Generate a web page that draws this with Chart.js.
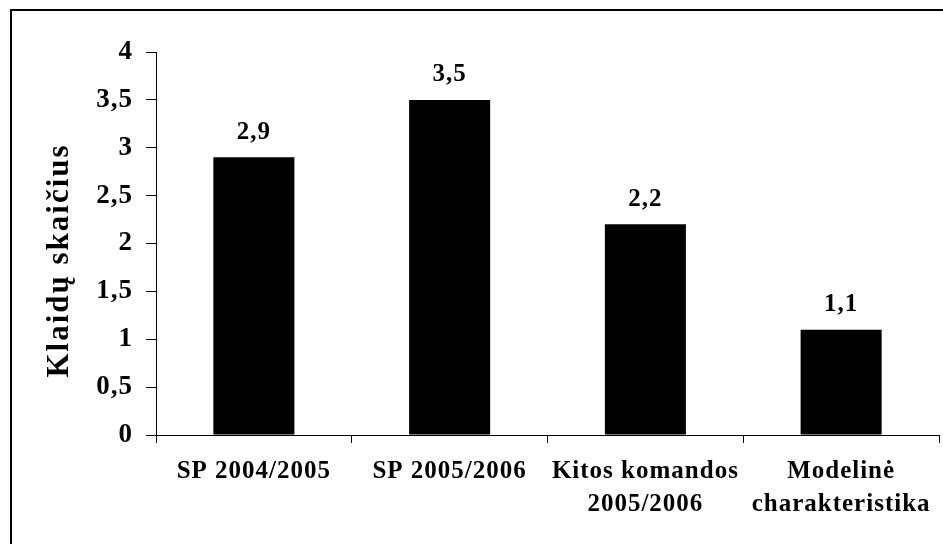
<!DOCTYPE html>
<html>
<head>
<meta charset="utf-8">
<script src="https://cdn.jsdelivr.net/npm/chart.js@4"></script>
<style>
  html, body { margin: 0; padding: 0; background: #fff; }
  #wrap { width: 943px; height: 544px; }
</style>
</head>
<body>
<div id="wrap"><canvas id="errChart"></canvas></div>
<script>
    // Categories and values
    var categories = ['SP 2004/2005', 'SP 2005/2006', ['Kitos komandos', '2005/2006'], ['Modelinė', 'charakteristika']];
    var errors = [2.9, 3.5, 2.2, 1.1];
    var yTicks = [0, 0.5, 1, 1.5, 2, 2.5, 3, 3.5, 4];
    var yTitle = 'Klaidų skaičius';

    var serif = '"Liberation Serif", "Times New Roman", serif';

    function comma(v) {
        return String(v).replace('.', ',');
    }

    // Outer frame round the picture; the original text is a little wider set
    var framePlugin = {
        id: 'frame',
        beforeDraw: function (chart) {
            var c = chart.ctx;
            c.letterSpacing = '1px';
            c.save();
            c.fillStyle = '#fff';
            c.fillRect(0, 0, chart.width, chart.height);
            c.strokeStyle = '#000';
            c.lineWidth = 2;
            c.strokeRect(11, 10, chart.width + 20, chart.height + 20);
            c.restore();
        }
    };

    // Value labels above the bars, and the y axis title
    var valuePlugin = {
        id: 'values',
        afterDatasetsDraw: function (chart) {
            var c = chart.ctx;
            var meta = chart.getDatasetMeta(0);
            c.save();
            c.fillStyle = '#000';
            c.font = 'bold 25px ' + serif;
            c.textAlign = 'center';
            c.textBaseline = 'middle';
            meta.data.forEach(function (bar, i) {
                c.fillText(comma(errors[i]), bar.x, bar.y - 25);
            });

            // rotated title, a bit below the middle of the axis like the original
            var area = chart.chartArea;
            c.translate(60, (area.top + area.bottom) / 2 + 17);
            c.rotate(-Math.PI / 2);
            c.letterSpacing = '2px';
            c.font = 'bold 31px ' + serif;
            c.fillText(yTitle, 0, 0);
            c.restore();
        }
    };

    var ctx = document.getElementById('errChart').getContext('2d');
    ctx.letterSpacing = '1px';

    var errChart = new Chart(ctx, {
        type: 'bar',
        data: {
            labels: categories,
            datasets: [{
                data: errors,
                backgroundColor: '#000',
                borderWidth: 0,
                categoryPercentage: 1,
                barPercentage: 0.414
            }]
        },
        options: {
            responsive: true,
            maintainAspectRatio: false,
            animation: false,
            layout: {
                padding: { top: 52, right: 4, left: 0, bottom: 0 }
            },
            plugins: {
                legend: { display: false },
                tooltip: { enabled: false }
            },
            scales: {
                x: {
                    grid: {
                        drawOnChartArea: false,
                        drawTicks: true,
                        tickLength: 8,
                        color: '#000'
                    },
                    border: { color: '#000', width: 1 },
                    ticks: {
                        color: '#000',
                        padding: 12,
                        maxRotation: 0,
                        autoSkip: false,
                        font: { family: serif, size: 25, weight: 'bold', lineHeight: 1.32 }
                    },
                    afterFit: function (scale) { scale.height = 109; }
                },
                y: {
                    min: 0,
                    max: 4,
                    afterBuildTicks: function (scale) {
                        scale.ticks = yTicks.map(function (v) { return { value: v }; });
                    },
                    grid: {
                        drawOnChartArea: false,
                        drawTicks: true,
                        tickLength: 10,
                        color: '#000'
                    },
                    border: { color: '#000', width: 1 },
                    ticks: {
                        color: '#000',
                        padding: 13,
                        font: { family: serif, size: 27, weight: 'bold' },
                        callback: function (v) { return comma(v); }
                    },
                    afterFit: function (scale) { scale.width = 156; }
                }
            }
        },
        plugins: [framePlugin, valuePlugin]
    });
</script>
</body>
</html>
